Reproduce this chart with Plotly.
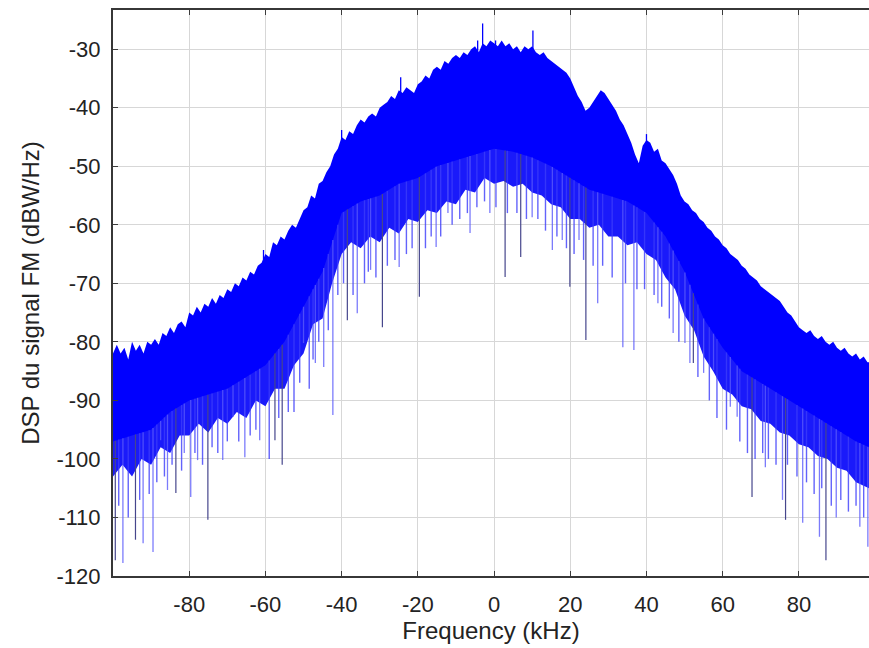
import numpy as np
import plotly.graph_objects as go

# Upper edge of the FM power spectral density, 1 kHz steps (dBW/Hz)
env_freq = list(range(-100, 99)) + [98.4]
env_upper = [
    # -100 .. -90
    -82, -80.5, -82, -81, -83, -80, -81.5, -80.5, -82, -80, -80.5,
    # -89 .. -80
    -79.5, -80.5, -78.5, -79, -77.5, -78.5, -77, -76.5, -77.5, -75,
    # -79 .. -70
    -75.5, -74, -75, -73.5, -74, -72.5, -73.5, -72, -72.5, -71,
    # -69 .. -60
    -71.5, -70, -70.5, -69, -69.5, -68, -68.5, -67, -66.5, -65,
    # -59 .. -50
    -65.5, -63, -63.5, -62, -62.5, -61, -60, -60.5, -59, -57.5,
    # -49 .. -40
    -57, -55, -55.5, -53, -52.5, -51, -50, -48, -47, -45,
    # -39 .. -30
    -45.5, -44, -44.5, -43, -42, -42.5, -41.5, -41, -41.5, -40,
    # -29 .. -20
    -39.5, -39, -38, -38.5, -37, -37.5, -36.5, -37, -37.5, -36,
    # -19 .. -10
    -35.5, -34.5, -35, -33.5, -33, -33.5, -32, -32.5, -31.5, -31,
    # -9 .. 0
    -31.5, -30.5, -31, -30, -29.5, -30.5, -29, -29.5, -28.5, -29,
    # 1 .. 10
    -29.5, -28.5, -29.5, -29, -30, -29.5, -30.5, -29.5, -30, -29.5,
    # 11 .. 20
    -30.5, -31, -30.5, -31.5, -32, -32.5, -33, -33.5, -34, -35,
    # 21 .. 30
    -36.5, -38, -39, -40.5, -40, -39, -38, -37, -37.5, -38.5,
    # 31 .. 40
    -39.5, -40.5, -42, -43, -44.5, -46, -48, -49.5, -46.5, -45.5,
    # 41 .. 50
    -46, -47.5, -47, -49, -49.5, -50.5, -51.5, -53, -55, -56,
    # 51 .. 60
    -56.5, -57.5, -58, -59, -59.5, -60.5, -61, -62, -62.5, -63.5,
    # 61 .. 70
    -64, -65, -65.5, -66, -67, -67.5, -68.5, -69, -69.5, -70.5,
    # 71 .. 80
    -71, -71.5, -72, -72.5, -73, -74, -75, -75.5, -76.5, -77.5,
    # 81 .. 90
    -78, -78.5, -78, -79, -79.5, -79, -80, -80.5, -80, -81,
    # 91 .. 98, 98.4
    -81.5, -81, -82, -82.5, -82, -83, -82.5, -83.5, -83.5,
]

# Lower edge of the solid part of the band
floor_freq = [-100, -95, -90, -85, -80, -75, -70, -65, -60, -55, -50, -45, -40, -35,
              -30, -25, -20, -15, -10, -5, 0, 5, 10, 15, 20, 25, 30, 35, 40, 45, 50,
              55, 60, 65, 70, 75, 80, 85, 90, 95, 98.4]
floor_db = [-97, -96, -95, -92, -90, -89, -88, -86, -84, -80, -74, -68, -58, -56,
            -55, -53, -52, -50, -49, -48, -47, -47.5, -48.5, -50, -52, -54, -55, -56,
            -58, -62, -68, -76, -81, -85, -87, -89, -91, -93, -95, -97, -98]

# Ragged lower edge of the lighter fringe, 2.5 kHz steps
edge_freq = [-100, -97.5, -95, -92.5, -90, -87.5, -85, -82.5, -80, -77.5, -75, -72.5,
             -70, -67.5, -65, -62.5, -60, -57.5, -55, -52.5, -50, -47.5, -45, -42.5,
             -40, -37.5, -35, -32.5, -30, -27.5, -25, -22.5, -20, -17.5, -15, -12.5,
             -10, -7.5, -5, -2.5, 0, 2.5, 5, 7.5, 10, 12.5, 15, 17.5, 20, 22.5, 25,
             27.5, 30, 32.5, 35, 37.5, 40, 42.5, 45, 47.5, 50, 52.5, 55, 57.5, 60,
             62.5, 65, 67.5, 70, 72.5, 75, 77.5, 80, 82.5, 85, 87.5, 90, 92.5, 95, 98.4]
edge_db = [-103, -101, -103, -100, -101, -98, -99, -96, -96, -94, -95.5, -93,
           -94, -92, -93, -90, -91, -88, -88, -84, -82, -77, -76, -70,
           -65, -63, -64, -62, -63, -60.5, -61.5, -59, -59.5, -57.5, -58, -56,
           -56.5, -54, -54.5, -52, -53, -52.5, -53.5, -53, -54.5, -55, -56.5, -57, -59, -59, -60.5,
           -60, -62, -62, -63.5, -63, -65, -66, -69, -71, -75.5, -78, -82.5, -85, -88,
           -89, -91, -91.5, -93.5, -94, -95.5, -96, -97.5, -98, -99.5, -100, -101.5, -102, -104, -105]

# Deep notches reaching well below the band
dip_freq = [-99.4, -97.4, -94.1, -92.1, -89.5, -87.5, -85.7, -83.5, -81.3, -79.6, -77.8,
            -75.1, -71.2, -68.5, -65.4, -61.5, -57.5, -55.6, -50.0, -46.9, -44.7, -42.3,
            -38.5, -35.9, -32.4, -29.3, -24.9, -19.6, -15.2, -12.1, -6.3, -1.1, 2.9, 7.0,
            10.0, 15.3, 17.9, 19.9, 22.3, 24.1, 27.2, 33.8, 36.7, 43.0, 47.0, 50.1, 51.4,
            52.3, 55.0, 57.6, 62.0, 63.8, 67.7, 71.2, 75.7, 76.5, 81.0, 85.4, 87.1, 89.8,
            96.0, 98.1]
dip_db = [-117.3, -117.8, -113.8, -114.4, -115.9, -96.8, -105.3, -105.8, -99.0, -106.5, -100.2,
          -110.4, -100.2, -92.8, -99.7, -96.8, -96.8, -101.0, -80.2, -83.6, -84.3, -92.5,
          -76.3, -75.1, -67.7, -77.5, -67.2, -72.3, -63.8, -58.0, -61.4, -58.0, -68.9, -65.5,
          -58.7, -64.3, -62.6, -70.6, -62.6, -79.7, -73.4, -80.9, -81.4, -73.4, -78.5, -80.2,
          -83.6, -83.6, -85.3, -84.8, -91.1, -92.8, -106.5, -101.4, -107.0, -110.4, -110.9,
          -113.3, -117.3, -110.0, -111.6, -115.0]
dip_dark = [1, 0, 1, 0, 0, 0, 0, 1, 0, 0, 0,
            1, 0, 0, 0, 0, 1, 1, 0, 0, 0, 0,
            1, 0, 0, 1, 0, 1, 0, 0, 0, 0, 1, 1,
            0, 0, 0, 1, 0, 1, 0, 0, 0, 0, 0, 0,
            0, 1, 0, 0, 0, 0, 1, 0, 0, 1, 0,
            0, 1, 0, 0, 0]

# Shorter notches along the lower edge
notch_freq = [-98.5, -96.0, -93.0, -90.5, -88.5, -86.5, -84.5, -82.0, -78.5, -76.5, -74.0,
              -72.5, -70.0, -67.0, -64.0, -62.5, -59.0, -56.5, -54.0, -52.5, -51.0, -48.5,
              -47.5, -46.0, -43.5, -41.0, -39.5, -37.0, -34.0, -33.0, -31.0, -28.0, -26.0,
              -23.0, -21.5, -18.0, -16.5, -14.0, -11.0, -9.0, -7.0, -4.5, -2.5, 0.5, 3.5,
              6.0, 8.5, 11.5, 13.5, 16.5, 19.0, 21.0, 23.5, 26.0, 28.5, 31.0, 34.5, 37.5,
              39.5, 42.0, 44.0, 46.0, 48.5, 53.5, 56.5, 58.5, 61.0, 64.5, 66.5, 68.5, 70.5,
              72.0, 74.0, 77.0, 79.5, 82.0, 84.0, 86.0, 88.5, 91.0, 93.0, 95.0, 97.0]
notch_db = [-108, -110, -107, -106, -104, -103, -101, -102, -99, -101, -98,
            -99, -97, -97, -96, -95, -100, -93, -92, -92, -87, -88,
            -83, -80, -78, -72, -70, -72, -70, -68, -69, -67, -66,
            -65, -64, -64, -62, -62, -60, -59, -58, -57, -56, -57, -58,
            -58, -59, -59, -61, -62, -64, -65, -66, -67, -67, -69, -70, -71,
            -71, -72, -74, -76, -80, -86, -90, -93, -95, -97, -99, -100, -99,
            -100, -101, -101, -103, -104, -106, -105, -108, -107, -109, -108, -110]

# Narrow peaks rising above the upper edge
peak_freq = [-60.5, -40.0, -24.5, -4.3, -3.0, 0.4, 10.2, 40.0]
peak_db = [-64.3, -43.8, -34.8, -28.5, -25.6, -28.5, -26.8, -44.5]

x_ticks = [-80, -60, -40, -20, 0, 20, 40, 60, 80]
x_labels = ["-80", "-60", "-40", "-20", "0", "20", "40", "60", "80"]
y_ticks = [-120, -110, -100, -90, -80, -70, -60, -50, -40, -30]
y_labels = ["-120", "-110", "-100", "-90", "-80", "-70", "-60", "-50", "-40", "-30"]

BLUE = "rgb(0,0,255)"


def segments(freqs, starts, ends):
    xs, ys = [], []
    for f, a, b in zip(freqs, starts, ends):
        xs += [f, f, None]
        ys += [a, b, None]
    return xs, ys


fig = go.Figure()

# Lighter fringe under the dense band
fig.add_trace(go.Scatter(
    x=floor_freq + edge_freq[::-1],
    y=[v + 1 for v in floor_db] + edge_db[::-1],
    fill="toself", fillcolor="rgb(26,26,250)", mode="lines",
    line=dict(width=0), hoverinfo="skip", showlegend=False,
))

# Dense spectrum band
fig.add_trace(go.Scatter(
    x=env_freq + floor_freq[::-1],
    y=env_upper + floor_db[::-1],
    fill="toself", fillcolor=BLUE, mode="lines",
    line=dict(width=0), hoverinfo="skip", showlegend=False,
))

# Short notches along the lower edge
n_start = np.interp(notch_freq, floor_freq, floor_db)
xs, ys = segments(notch_freq, n_start, notch_db)
fig.add_trace(go.Scatter(x=xs, y=ys, mode="lines",
                         line=dict(color="rgba(60,60,250,0.8)", width=1.4),
                         hoverinfo="skip", showlegend=False))

dip_start = np.interp(dip_freq, floor_freq, floor_db)
light = [i for i, d in enumerate(dip_dark) if not d]
dark = [i for i, d in enumerate(dip_dark) if d]

xs, ys = segments([dip_freq[i] for i in light], [dip_start[i] for i in light],
                  [dip_db[i] for i in light])
fig.add_trace(go.Scatter(x=xs, y=ys, mode="lines",
                         line=dict(color="rgba(90,90,250,0.8)", width=1.3),
                         hoverinfo="skip", showlegend=False))

xs, ys = segments([dip_freq[i] for i in dark], [dip_start[i] for i in dark],
                  [dip_db[i] for i in dark])
fig.add_trace(go.Scatter(x=xs, y=ys, mode="lines",
                         line=dict(color="rgb(70,70,140)", width=1.2),
                         hoverinfo="skip", showlegend=False))

peak_start = np.interp(peak_freq, env_freq, env_upper) - 2
xs, ys = segments(peak_freq, peak_start, peak_db)
fig.add_trace(go.Scatter(x=xs, y=ys, mode="lines",
                         line=dict(color=BLUE, width=1.3),
                         hoverinfo="skip", showlegend=False))

font = dict(family="Liberation Sans, Arial, sans-serif", color="rgb(35,35,35)")

fig.update_layout(
    width=869, height=648,
    margin=dict(l=113, r=0, t=10, b=72),
    paper_bgcolor="white", plot_bgcolor="white",
    font=dict(size=22, **font),
    showlegend=False,
)
fig.update_xaxes(
    range=[-100, 98.4], tickvals=x_ticks, ticktext=x_labels, ticks="inside", ticklen=5,
    tickcolor="rgb(60,60,60)", showgrid=True, gridcolor="rgb(215,215,215)",
    gridwidth=1, zeroline=False, showline=True, linecolor="rgb(55,55,55)",
    linewidth=2, mirror="ticks", tickfont=dict(size=22, **font),
    ticklabelstandoff=8,
    title=dict(text="Frequency (kHz)", font=dict(size=24, **font), standoff=2),
)
fig.update_yaxes(
    range=[-120, -23.3], tickvals=y_ticks, ticktext=y_labels, ticks="inside", ticklen=5,
    tickcolor="rgb(60,60,60)", showgrid=True, gridcolor="rgb(215,215,215)",
    gridwidth=1, zeroline=False, showline=True, linecolor="rgb(55,55,55)",
    linewidth=2, mirror=False, tickfont=dict(size=22, **font),
    ticklabelstandoff=6,
    title=dict(text="DSP du signal FM (dBW/Hz)", font=dict(size=24, **font), standoff=10),
)

fig.write_html("out.html")
